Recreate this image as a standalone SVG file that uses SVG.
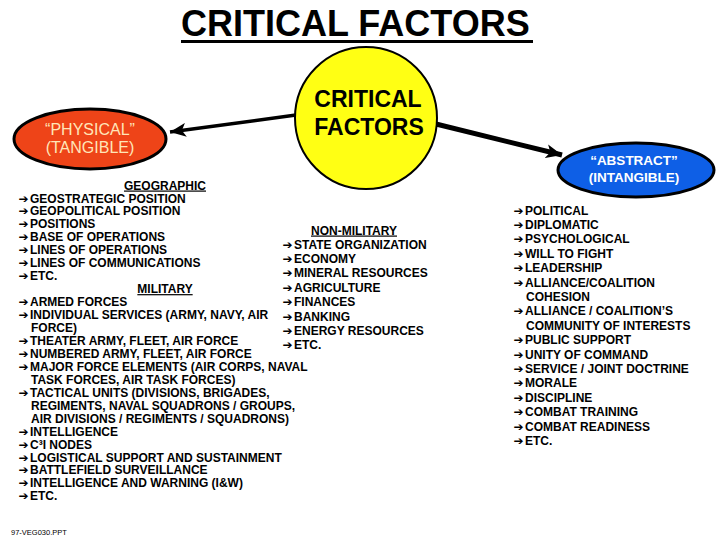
<svg xmlns="http://www.w3.org/2000/svg" width="720" height="540" viewBox="0 0 720 540">
<style>
.t{font-family:"Liberation Sans",Arial,sans-serif;font-weight:bold;font-size:12px;fill:#000}
.a{font-family:"DejaVu Sans",sans-serif;font-size:12px;font-weight:bold}
.u{text-decoration:underline}
.ttl{font-family:"Liberation Sans",Arial,sans-serif;font-size:36px;font-weight:bold;fill:#000}
.cf{font-family:"Liberation Sans",Arial,sans-serif;font-size:23px;font-weight:bold;fill:#000;text-anchor:middle}
.ph{font-family:"Liberation Sans",Arial,sans-serif;font-size:16px;fill:#FFE6B8;text-anchor:middle}
.ab{font-family:"Liberation Sans",Arial,sans-serif;font-size:13.5px;font-weight:bold;fill:#fff;text-anchor:middle}
.conn{stroke:#000;fill:none}
</style>
<defs>
<marker id="ah" markerUnits="userSpaceOnUse" markerWidth="18" markerHeight="14" refX="16" refY="7" orient="auto">
<path d="M0,0 L16,7 L0,14 L4,7 Z" fill="#000"/>
</marker>
</defs>
<rect width="720" height="540" fill="#fff"/>
<g id="title">
<text class="ttl" x="181" y="36">CRITICAL FACTORS</text>
<rect x="181" y="40" width="352" height="3" fill="#000"/>
</g>
<g id="connectors">
<line class="conn" x1="296" y1="115" x2="170" y2="132" stroke-width="3.5" marker-end="url(#ah)"/>
<line class="conn" x1="436" y1="124" x2="562" y2="155" stroke-width="5" marker-end="url(#ah)"/>
</g>
<g id="critical">
<circle cx="366" cy="118" r="71" fill="#FFFF14" stroke="#000" stroke-width="2"/>
<text class="cf" x="368" y="107">CRITICAL</text>
<text class="cf" x="369" y="135">FACTORS</text>
</g>
<g id="physical">
<ellipse cx="90" cy="139" rx="76" ry="30" fill="#EE4418" stroke="#000" stroke-width="3"/>
<text class="ph" x="90" y="135">“PHYSICAL”</text>
<text class="ph" x="90" y="153">(TANGIBLE)</text>
</g>
<g id="abstract">
<ellipse cx="636" cy="170" rx="78" ry="27" fill="#0E5FE6" stroke="#000" stroke-width="3"/>
<text class="ab" x="634" y="165">“ABSTRACT”</text>
<text class="ab" x="634" y="182">(INTANGIBLE)</text>
</g>
<g id="physical-list" class="t">
<text class="t u" x="165" y="189.5" text-anchor="middle">GEOGRAPHIC</text>
<text class="t" x="18.5" y="202.5"><tspan class="a">➔</tspan><tspan x="30">GEOSTRATEGIC POSITION</tspan></text>
<text class="t" x="18.5" y="215.4"><tspan class="a">➔</tspan><tspan x="30">GEOPOLITICAL POSITION</tspan></text>
<text class="t" x="18.5" y="228.4"><tspan class="a">➔</tspan><tspan x="30">POSITIONS</tspan></text>
<text class="t" x="18.5" y="241.3"><tspan class="a">➔</tspan><tspan x="30">BASE OF OPERATIONS</tspan></text>
<text class="t" x="18.5" y="254.3"><tspan class="a">➔</tspan><tspan x="30">LINES OF OPERATIONS</tspan></text>
<text class="t" x="18.5" y="267.2"><tspan class="a">➔</tspan><tspan x="30">LINES OF COMMUNICATIONS</tspan></text>
<text class="t" x="18.5" y="280.2"><tspan class="a">➔</tspan><tspan x="30">ETC.</tspan></text>
<text class="t u" x="165" y="293.1" text-anchor="middle">MILITARY</text>
<text class="t" x="18.5" y="306.1"><tspan class="a">➔</tspan><tspan x="30">ARMED FORCES</tspan></text>
<text class="t" x="18.5" y="319"><tspan class="a">➔</tspan><tspan x="30">INDIVIDUAL SERVICES (ARMY, NAVY, AIR</tspan></text>
<text class="t" x="31" y="332">FORCE)</text>
<text class="t" x="18.5" y="344.9"><tspan class="a">➔</tspan><tspan x="30">THEATER ARMY, FLEET, AIR FORCE</tspan></text>
<text class="t" x="18.5" y="357.9"><tspan class="a">➔</tspan><tspan x="30">NUMBERED ARMY, FLEET, AIR FORCE</tspan></text>
<text class="t" x="18.5" y="370.8"><tspan class="a">➔</tspan><tspan x="30">MAJOR FORCE ELEMENTS (AIR CORPS, NAVAL</tspan></text>
<text class="t" x="31" y="383.8">TASK FORCES, AIR TASK FORCES)</text>
<text class="t" x="18.5" y="396.7"><tspan class="a">➔</tspan><tspan x="30">TACTICAL UNITS (DIVISIONS, BRIGADES,</tspan></text>
<text class="t" x="31" y="409.7">REGIMENTS, NAVAL SQUADRONS / GROUPS,</text>
<text class="t" x="31" y="422.6">AIR DIVISIONS / REGIMENTS / SQUADRONS)</text>
<text class="t" x="18.5" y="435.6"><tspan class="a">➔</tspan><tspan x="30">INTELLIGENCE</tspan></text>
<text class="t" x="18.5" y="448.5"><tspan class="a">➔</tspan><tspan x="30">C³I NODES</tspan></text>
<text class="t" x="18.5" y="461.5"><tspan class="a">➔</tspan><tspan x="30">LOGISTICAL SUPPORT AND SUSTAINMENT</tspan></text>
<text class="t" x="18.5" y="474.4"><tspan class="a">➔</tspan><tspan x="30">BATTLEFIELD SURVEILLANCE</tspan></text>
<text class="t" x="18.5" y="487.4"><tspan class="a">➔</tspan><tspan x="30">INTELLIGENCE AND WARNING (I&amp;W)</tspan></text>
<text class="t" x="18.5" y="500.3"><tspan class="a">➔</tspan><tspan x="30">ETC.</tspan></text>
</g>
<g id="nonmilitary-list">
<text class="t u" x="354" y="234.5" text-anchor="middle">NON-MILITARY</text>
<text class="t" x="282.5" y="248.5"><tspan class="a">➔</tspan><tspan x="294">STATE ORGANIZATION</tspan></text>
<text class="t" x="282.5" y="262.9"><tspan class="a">➔</tspan><tspan x="294">ECONOMY</tspan></text>
<text class="t" x="282.5" y="277.3"><tspan class="a">➔</tspan><tspan x="294">MINERAL RESOURCES</tspan></text>
<text class="t" x="282.5" y="291.7"><tspan class="a">➔</tspan><tspan x="294">AGRICULTURE</tspan></text>
<text class="t" x="282.5" y="306.1"><tspan class="a">➔</tspan><tspan x="294">FINANCES</tspan></text>
<text class="t" x="282.5" y="320.5"><tspan class="a">➔</tspan><tspan x="294">BANKING</tspan></text>
<text class="t" x="282.5" y="334.9"><tspan class="a">➔</tspan><tspan x="294">ENERGY RESOURCES</tspan></text>
<text class="t" x="282.5" y="349.3"><tspan class="a">➔</tspan><tspan x="294">ETC.</tspan></text>
</g>
<g id="abstract-list">
<text class="t" x="513.5" y="214.5"><tspan class="a">➔</tspan><tspan x="525">POLITICAL</tspan></text>
<text class="t" x="513.5" y="228.9"><tspan class="a">➔</tspan><tspan x="525">DIPLOMATIC</tspan></text>
<text class="t" x="513.5" y="243.3"><tspan class="a">➔</tspan><tspan x="525">PSYCHOLOGICAL</tspan></text>
<text class="t" x="513.5" y="257.7"><tspan class="a">➔</tspan><tspan x="525">WILL TO FIGHT</tspan></text>
<text class="t" x="513.5" y="272.1"><tspan class="a">➔</tspan><tspan x="525">LEADERSHIP</tspan></text>
<text class="t" x="513.5" y="286.5"><tspan class="a">➔</tspan><tspan x="525">ALLIANCE/COALITION</tspan></text>
<text class="t" x="526" y="300.9">COHESION</text>
<text class="t" x="513.5" y="315.3"><tspan class="a">➔</tspan><tspan x="525">ALLIANCE / COALITION’S</tspan></text>
<text class="t" x="526" y="329.7">COMMUNITY OF INTERESTS</text>
<text class="t" x="513.5" y="344.1"><tspan class="a">➔</tspan><tspan x="525">PUBLIC SUPPORT</tspan></text>
<text class="t" x="513.5" y="358.5"><tspan class="a">➔</tspan><tspan x="525">UNITY OF COMMAND</tspan></text>
<text class="t" x="513.5" y="372.9"><tspan class="a">➔</tspan><tspan x="525">SERVICE / JOINT DOCTRINE</tspan></text>
<text class="t" x="513.5" y="387.3"><tspan class="a">➔</tspan><tspan x="525">MORALE</tspan></text>
<text class="t" x="513.5" y="401.7"><tspan class="a">➔</tspan><tspan x="525">DISCIPLINE</tspan></text>
<text class="t" x="513.5" y="416.1"><tspan class="a">➔</tspan><tspan x="525">COMBAT TRAINING</tspan></text>
<text class="t" x="513.5" y="430.5"><tspan class="a">➔</tspan><tspan x="525">COMBAT READINESS</tspan></text>
<text class="t" x="513.5" y="444.9"><tspan class="a">➔</tspan><tspan x="525">ETC.</tspan></text>
</g>
<text x="11" y="535" font-family="Liberation Sans, Arial, sans-serif" font-size="7.5" fill="#000">97-VEG030.PPT</text>
</svg>
